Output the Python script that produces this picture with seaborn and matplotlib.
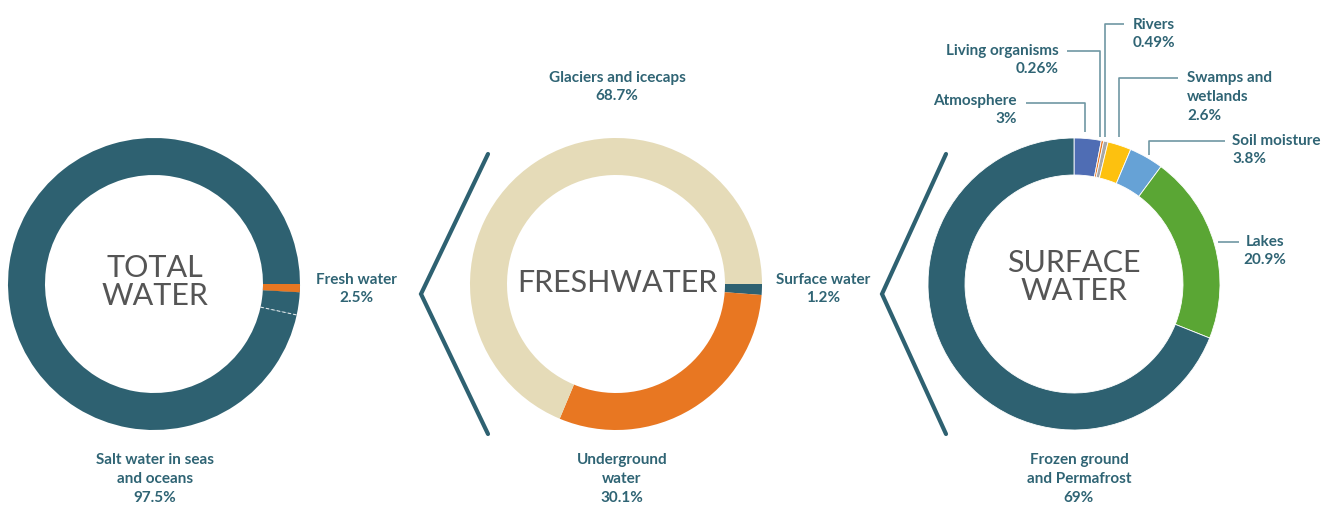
import numpy as np
import matplotlib
matplotlib.use("Agg")
import matplotlib.pyplot as plt
import seaborn as sns
from matplotlib.patches import Wedge

sns.set_theme(style="white")
plt.rcParams['font.family'] = ['Lato', 'DejaVu Sans']

# ---------------- data ----------------
total_labels = ["Fresh water", "Salt water in seas\nand oceans"]
total_values = [2.5, 97.5]
total_accent = 0.9  # thin orange accent stripe next to fresh water

fresh_labels = ["Surface water", "Underground\nwater", "Glaciers and icecaps"]
fresh_values = [1.2, 30.1, 68.7]

surface_labels = ["Atmosphere", "Living organisms", "Rivers", "Swamps and\nwetlands",
                  "Soil moisture", "Lakes", "Frozen ground\nand Permafrost"]
surface_values = [3, 0.26, 0.49, 2.6, 3.8, 20.9, 69]
surface_pct = ["3%", "0.26%", "0.49%", "2.6%", "3.8%", "20.9%", "69%"]

# ---------------- style ----------------
TEAL = "#2e6171"
TXT = "#2f6474"
ORANGE = "#e87722"
BEIGE = "#e5dbb8"
GREY_TXT = "#555555"
surface_colors = ["#4f6db4", ORANGE, "#a8a8a8", "#fdc10f", "#66a2d6", "#5aa634", TEAL]
fresh_colors = [TEAL, ORANGE, BEIGE]

W, H = 1323, 507
fig = plt.figure(figsize=(W / 100, H / 100), dpi=100)
ax = fig.add_axes([0, 0, 1, 1])

R, RW = 146, 37
c1, c2, c3 = (154, 507 - 284), (616, 507 - 284), (1074, 507 - 284)

def Y(y):
    return H - y

# donut 1: total water
start1 = -360 * total_accent / 100
ax.pie(total_values, colors=[TEAL, TEAL], startangle=start1, counterclock=False,
       center=c1, radius=R, frame=True,
       wedgeprops=dict(width=RW, linewidth=0))
ax.add_patch(Wedge(c1, R, start1, 0, width=RW, facecolor=ORANGE, linewidth=0))
ang = np.deg2rad(start1 - 360 * total_values[0] / 100)
ax.plot([c1[0] + (R - RW) * np.cos(ang), c1[0] + R * np.cos(ang)],
        [c1[1] + (R - RW) * np.sin(ang), c1[1] + R * np.sin(ang)],
        color="white", lw=0.8, ls=(0, (3, 2)), alpha=0.8)

# donut 2: freshwater
ax.pie(fresh_values, colors=fresh_colors, startangle=0, counterclock=False,
       center=c2, radius=R, frame=True, wedgeprops=dict(width=RW, linewidth=0))

# donut 3: surface water
ax.pie(surface_values, colors=surface_colors, startangle=90, counterclock=False,
       center=c3, radius=R, frame=True,
       wedgeprops=dict(width=RW, linewidth=0.6, edgecolor="white"))

ax.set_xlim(0, W)
ax.set_ylim(0, H)
ax.set_aspect("equal")
ax.axis("off")

# center titles
ctitle = dict(color=GREY_TXT, fontsize=22, fontweight="normal", ha="center", va="center",
              linespacing=1.0)
ax.text(155, Y(282), "TOTAL\nWATER", **ctitle)
ax.text(617, Y(283), "FRESHWATER", **ctitle)
ax.text(1074, Y(277), "SURFACE\nWATER", **ctitle)

lab = dict(color=TXT, fontsize=11, fontweight="bold", linespacing=1.45)

ax.text(356, Y(289), f"{total_labels[0]}\n{total_values[0]}%", ha="center", va="center", **lab)
ax.text(155, Y(479), f"{total_labels[1]}\n{total_values[1]}%", ha="center", va="center", **lab)

ax.text(823, Y(289), f"{fresh_labels[0]}\n{fresh_values[0]}%", ha="center", va="center", **lab)
ax.text(622, Y(479), f"{fresh_labels[1]}\n{fresh_values[1]}%", ha="center", va="center", **lab)
ax.text(617, Y(87), f"{fresh_labels[2]}\n{fresh_values[2]}%", ha="center", va="center", **lab)

# surface water labels
ax.text(1017, Y(110), f"{surface_labels[0]}\n{surface_pct[0]}", ha="right", va="center", **lab)
ax.text(1059, Y(60), f"{surface_labels[1]}\n{surface_pct[1]}", ha="right", va="center", **lab)
ax.text(1133, Y(34), f"{surface_labels[2]}\n{surface_pct[2]}", ha="left", va="center", **lab)
ax.text(1187, Y(97), f"{surface_labels[3]}\n{surface_pct[3]}", ha="left", va="center", **lab)
ax.text(1232, Y(150), f"{surface_labels[4]}\n{surface_pct[4]}", ha="left", va="center", **lab)
ax.text(1265, Y(251), f"{surface_labels[5]}\n{surface_pct[5]}", ha="center", va="center", **lab)
ax.text(1079, Y(479), f"{surface_labels[6]}\n{surface_pct[6]}", ha="center", va="center", **lab)

# leader lines
lc = dict(color="#6f97a3", lw=1.2, solid_capstyle="butt")
ax.plot([1026, 1085, 1085], [Y(103), Y(103), Y(132)], **lc)
ax.plot([1067, 1100, 1100], [Y(51), Y(51), Y(137)], **lc)
ax.plot([1124, 1105, 1105], [Y(24), Y(24), Y(137)], **lc)
ax.plot([1178, 1119, 1119], [Y(78), Y(78), Y(137)], **lc)
ax.plot([1225, 1149, 1149], [Y(141), Y(141), Y(155)], **lc)
ax.plot([1218, 1239], [Y(242), Y(242)], **lc)

# chevrons
chev = dict(color=TEAL, lw=3, solid_joinstyle="miter", solid_capstyle="round")
ax.plot([488, 421, 488], [Y(154), Y(294), Y(434)], **chev)
ax.plot([946, 882, 946], [Y(154), Y(294), Y(434)], **chev)

fig.savefig("out.png", dpi=100)
